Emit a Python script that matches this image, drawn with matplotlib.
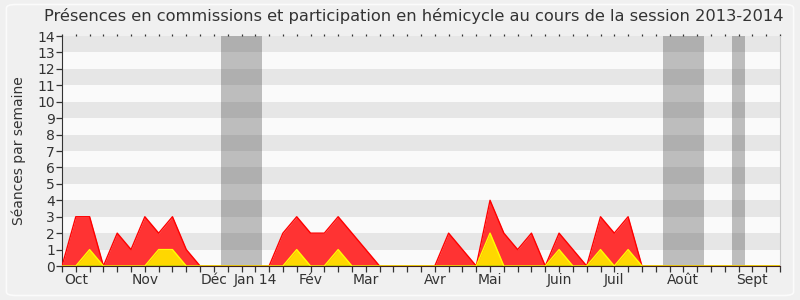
import numpy as np
import matplotlib
matplotlib.use("Agg")
import matplotlib.pyplot as plt
from matplotlib.patches import FancyBboxPatch

# weekly values, session 2013-2014 (week 0 = start of October)
weeks = np.arange(53)
presences = [0, 3, 3, 0, 2, 1, 3, 2, 3, 1, 0, 0, 0, 0, 0, 0, 2, 3, 2, 2, 3, 2, 1, 0, 0, 0, 0,
             0, 2, 1, 0, 4, 2, 1, 2, 0, 2, 1, 0, 3, 2, 3, 0, 0, 0, 0, 0, 0, 0, 0, 0, 0, 0]
hemicycle = [0, 0, 1, 0, 0, 0, 0, 1, 1, 0, 0, 0, 0, 0, 0, 0, 0, 1, 0, 0, 1, 0, 0, 0, 0, 0, 0,
             0, 0, 0, 0, 2, 0, 0, 0, 0, 1, 0, 0, 1, 0, 1, 0, 0, 0, 0, 0, 0, 0, 0, 0, 0, 0]
other = [0] * 53

month_pos = [1, 6, 11, 14, 18, 22, 27, 31, 36, 40, 45, 50]
month_names = ["Oct", "Nov", "Déc", "Jan 14", "Fév", "Mar", "Avr", "Mai", "Juin", "Juil", "Août", "Sept"]

# vacation weeks (start, end)
vacations = [(11.5, 14.5), (43.5, 46.5), (48.5, 49.5)]

fig = plt.figure(figsize=(8, 3), dpi=100, facecolor="#f0f0f0")
fig.patches.append(FancyBboxPatch((0.008, 0.015), 0.984, 0.97, boxstyle="round,pad=0,rounding_size=0.012",
                                  transform=fig.transFigure, facecolor="none", edgecolor="#fbfbfb", lw=1.2))
ax = fig.add_axes([0.0775, 0.1133, 0.8975, 0.7667])
ax.set_facecolor("#fafafa")

for k in range(1, 14, 2):
    ax.axhspan(k, k + 1, color="#e6e6e6", lw=0, zorder=0)
for a, b in vacations:
    ax.axvspan(a, b, color="#323232", alpha=0.3, lw=0, zorder=1)

ax.fill_between(weeks, presences, color="#ff3333", lw=0, zorder=2)
ax.plot(weeks, presences, color="#ff0000", lw=1, zorder=3)
ax.fill_between(weeks, hemicycle, color="#ffd700", lw=0, zorder=4)
ax.plot(weeks, other, color="#00cc00", lw=1, zorder=4.5)
ax.plot(weeks, hemicycle, color="#ffff00", lw=1, zorder=5)

ax.set_xlim(0, 52)
ax.set_ylim(0, 14)
ax.set_yticks(range(15))
ax.set_xticks(weeks)
labels = [""] * 53
for p, n in zip(month_pos, month_names):
    labels[p] = n
ax.set_xticklabels(labels)
ax.tick_params(axis="both", labelsize=10, colors="#333333", length=4, width=0.9, pad=1)
ax.tick_params(axis="x", top=True)
for t in ax.xaxis.get_major_ticks():
    t.tick2line.set_markersize(1.5)
    t.tick2line.set_color("#555555")

ax.spines["top"].set_visible(False)
ax.spines["right"].set_color("#c8c8c8")
ax.spines["left"].set_color("#333333")
ax.spines["bottom"].set_color("#402020")
ax.spines["bottom"].set_zorder(6)

ax.set_ylabel("Séances par semaine", fontsize=10, color="#333333", labelpad=8)
ax.set_title("Présences en commissions et participation en hémicycle au cours de la session 2013-2014",
             fontsize=11.7, color="#333333", pad=11, x=0.49)

fig.savefig("out.png", dpi=100, facecolor=fig.get_facecolor())
